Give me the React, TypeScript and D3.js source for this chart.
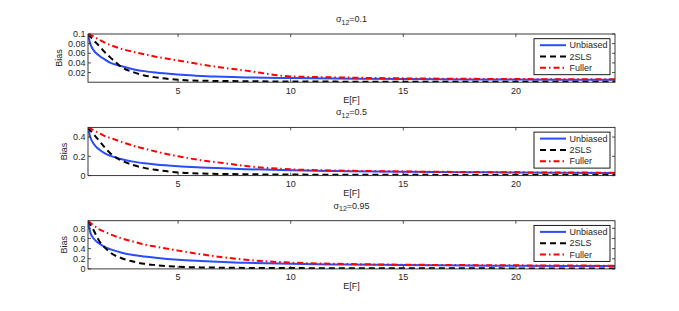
import React from "react";
import * as d3 from "d3";

const EF = [1, 1.1, 1.25, 1.5, 1.75, 2, 2.5, 3, 3.5, 4, 5, 6, 7, 8, 10, 12, 15, 18, 20, 24.4];

const sigmas = ["0.1", "0.5", "0.95"];
const yMax = [0.1, 0.5, 0.95];
const yTicks = [
  [0.02, 0.04, 0.06, 0.08, 0.1],
  [0, 0.2, 0.4],
  [0, 0.2, 0.4, 0.6, 0.8],
];
const xTicks = [5, 10, 15, 20];

const unbiased1 = [0.1, 0.08, 0.066, 0.055, 0.047, 0.04, 0.033, 0.027, 0.023, 0.02, 0.016, 0.013, 0.0115, 0.01, 0.0085, 0.0075, 0.0065, 0.0058, 0.0055, 0.005];
const tsls1 = [0.1, 0.095, 0.087, 0.075, 0.062, 0.051, 0.031, 0.021, 0.014, 0.01, 0.005, 0.003, 0.0025, 0.002, 0.0015, 0.0012, 0.001, 0.0009, 0.0008, 0.0007];
const fuller1 = [0.1, 0.098, 0.095, 0.088, 0.082, 0.077, 0.069, 0.063, 0.058, 0.053, 0.045, 0.037, 0.03, 0.024, 0.012, 0.01, 0.008, 0.007, 0.0065, 0.006];

const unbiased2 = [0.5, 0.4, 0.33, 0.27, 0.23, 0.205, 0.17, 0.145, 0.128, 0.115, 0.097, 0.085, 0.075, 0.067, 0.055, 0.048, 0.04, 0.035, 0.032, 0.028];
const tsls2 = [0.5, 0.47, 0.43, 0.36, 0.29, 0.23, 0.155, 0.11, 0.08, 0.06, 0.033, 0.022, 0.017, 0.014, 0.011, 0.009, 0.008, 0.007, 0.006, 0.005];
const fuller2 = [0.5, 0.49, 0.47, 0.44, 0.41, 0.39, 0.35, 0.31, 0.28, 0.25, 0.2, 0.16, 0.13, 0.1, 0.065, 0.053, 0.043, 0.037, 0.034, 0.03];

const unbiased3 = [0.95, 0.72, 0.6, 0.5, 0.43, 0.385, 0.32, 0.275, 0.245, 0.22, 0.18, 0.155, 0.135, 0.12, 0.1, 0.088, 0.075, 0.066, 0.062, 0.055];
const tsls3 = [0.95, 0.88, 0.76, 0.55, 0.42, 0.32, 0.21, 0.145, 0.1, 0.075, 0.042, 0.03, 0.024, 0.02, 0.016, 0.014, 0.012, 0.011, 0.01, 0.009];
const fuller3 = [0.95, 0.91, 0.86, 0.78, 0.73, 0.68, 0.6, 0.54, 0.48, 0.44, 0.36, 0.29, 0.23, 0.18, 0.125, 0.1, 0.083, 0.074, 0.07, 0.063];

const seriesNames = ["Unbiased", "2SLS", "Fuller"];
const panelData = [
  [unbiased1, tsls1, fuller1],
  [unbiased2, tsls2, fuller2],
  [unbiased3, tsls3, fuller3],
];

const colors = ["#2a4cff", "#000000", "#ff0000"];
const dashes = ["none", "6,4", "6,3,1.5,3"];

const W = 679;
const H = 311;
const left = 88;
const right = 615;
const tops = [34, 127.4, 220.7];
const ph = 48.2;
const font = "Liberation Sans, Arial, Helvetica, sans-serif";

function Panel({ idx }: { idx: number }) {
  const top = tops[idx];
  const bottom = top + ph;
  const x = d3.scaleLinear().domain([1, 24.4]).range([left, right]);
  const y = d3.scaleLinear().domain([0, yMax[idx]]).range([bottom, top]);
  const line = d3
    .line<number>()
    .x((_, i) => x(EF[i]))
    .y((d) => y(d))
    .curve(d3.curveMonotoneX);
  const clipId = `clip${idx}`;
  const cx = (left + right) / 2;
  const lgL = 534, lgR = 610, lgT = top + 4.7, lgH = 36;
  return (
    <g>
      <defs>
        <clipPath id={clipId}>
          <rect x={left} y={top} width={right - left} height={ph} />
        </clipPath>
      </defs>
      <rect x={left} y={top} width={right - left} height={ph} fill="#fff" />
      <g clipPath={`url(#${clipId})`}>
        {panelData[idx].map((s, k) => (
          <path
            key={k}
            d={line(s) || ""}
            fill="none"
            stroke={colors[k]}
            strokeWidth={2}
            strokeDasharray={dashes[k]}
          />
        ))}
      </g>
      {/* ticks */}
      {xTicks.map((t) => (
        <g key={t}>
          <line x1={x(t)} x2={x(t)} y1={bottom} y2={bottom - 3} stroke="#262626" strokeWidth={0.8} />
          <line x1={x(t)} x2={x(t)} y1={top} y2={top + 3} stroke="#262626" strokeWidth={0.8} />
          <text x={x(t)} y={bottom + 11.5} fontSize={9} textAnchor="middle" fill="#262626" fontFamily={font}>
            {t}
          </text>
        </g>
      ))}
      {yTicks[idx].map((t) => (
        <g key={t}>
          <line x1={left} x2={left + 3} y1={y(t)} y2={y(t)} stroke="#262626" strokeWidth={0.8} />
          <line x1={right} x2={right - 3} y1={y(t)} y2={y(t)} stroke="#262626" strokeWidth={0.8} />
          <text x={left - 2.5} y={y(t) + 3.2} fontSize={9} textAnchor="end" fill="#262626" fontFamily={font}>
            {String(t)}
          </text>
        </g>
      ))}
      <rect x={left} y={top} width={right - left} height={ph} fill="none" stroke="#262626" strokeWidth={0.9} />
      {/* title */}
      <text x={cx} y={top - 12} fontSize={9} textAnchor="middle" fill="#262626" fontFamily={font}>
        σ<tspan fontSize={7} dy={2.5}>12</tspan>
        <tspan dy={-2.5}>={sigmas[idx]}</tspan>
      </text>
      <text x={cx} y={bottom + 20.5} fontSize={9} textAnchor="middle" fill="#262626" fontFamily={font}>
        E[F]
      </text>
      <text
        transform={`translate(${idx === 0 ? 62.3 : 67.3},${(top + bottom) / 2}) rotate(-90)`}
        fontSize={9}
        textAnchor="middle"
        fill="#262626"
        fontFamily={font}
      >
        Bias
      </text>
      {/* legend */}
      <rect x={lgL} y={lgT} width={lgR - lgL} height={lgH} fill="#fff" stroke="#000" strokeWidth={0.9} />
      {seriesNames.map((n, k) => {
        const ly = lgT + 6.5 + k * 11.3;
        return (
          <g key={n}>
            <line x1={540} x2={566} y1={ly} y2={ly} stroke={colors[k]} strokeWidth={2} strokeDasharray={dashes[k]} />
            <text x={569.5} y={ly + 3.2} fontSize={9} fill="#262626" fontFamily={font}>
              {n}
            </text>
          </g>
        );
      })}
    </g>
  );
}

export default function App() {
  return (
    <svg
      width={W}
      height={H}
      style={{ position: "absolute", left: 0, top: 0, background: "#fff" }}
    >
      <rect width={W} height={H} fill="#fff" />
      {[0, 1, 2].map((i) => (
        <Panel key={i} idx={i} />
      ))}
    </svg>
  );
}
